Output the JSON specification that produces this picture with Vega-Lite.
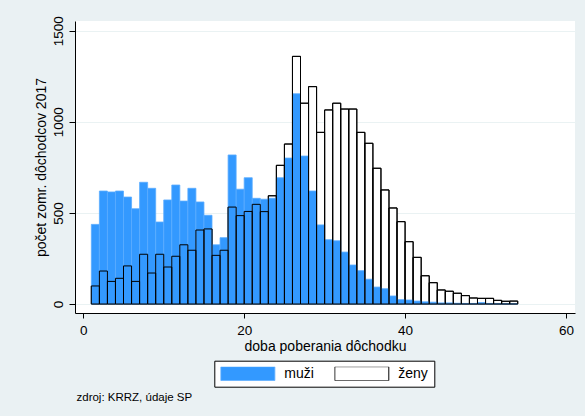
{
  "$schema": "https://vega.github.io/schema/vega-lite/v6.json",
  "autosize": "none",
  "width": 500,
  "height": 292,
  "padding": {"left": 75, "top": 21, "right": 10, "bottom": 103},
  "background": "#eaf1f3",
  "data": {"values": [
    {"od":1,"do":2,"pohlavie":"muži","pocet":437},{"od":2,"do":3,"pohlavie":"muži","pocet":620},{"od":3,"do":4,"pohlavie":"muži","pocet":615},{"od":4,"do":5,"pohlavie":"muži","pocet":620},{"od":5,"do":6,"pohlavie":"muži","pocet":587},{"od":6,"do":7,"pohlavie":"muži","pocet":523},{"od":7,"do":8,"pohlavie":"muži","pocet":668},{"od":8,"do":9,"pohlavie":"muži","pocet":635},{"od":9,"do":10,"pohlavie":"muži","pocet":450},{"od":10,"do":11,"pohlavie":"muži","pocet":571},
    {"od":11,"do":12,"pohlavie":"muži","pocet":653},{"od":12,"do":13,"pohlavie":"muži","pocet":565},{"od":13,"do":14,"pohlavie":"muži","pocet":635},{"od":14,"do":15,"pohlavie":"muži","pocet":560},{"od":15,"do":16,"pohlavie":"muži","pocet":487},{"od":16,"do":17,"pohlavie":"muži","pocet":325},{"od":17,"do":18,"pohlavie":"muži","pocet":364},{"od":18,"do":19,"pohlavie":"muži","pocet":818},{"od":19,"do":20,"pohlavie":"muži","pocet":630},{"od":20,"do":21,"pohlavie":"muži","pocet":693},
    {"od":21,"do":22,"pohlavie":"muži","pocet":580},{"od":22,"do":23,"pohlavie":"muži","pocet":575},{"od":23,"do":24,"pohlavie":"muži","pocet":580},{"od":24,"do":25,"pohlavie":"muži","pocet":693},{"od":25,"do":26,"pohlavie":"muži","pocet":801},{"od":26,"do":27,"pohlavie":"muži","pocet":1154},{"od":27,"do":28,"pohlavie":"muži","pocet":812},{"od":28,"do":29,"pohlavie":"muži","pocet":620},{"od":29,"do":30,"pohlavie":"muži","pocet":434},{"od":30,"do":31,"pohlavie":"muži","pocet":353},
    {"od":31,"do":32,"pohlavie":"muži","pocet":347},{"od":32,"do":33,"pohlavie":"muži","pocet":285},{"od":33,"do":34,"pohlavie":"muži","pocet":214},{"od":34,"do":35,"pohlavie":"muži","pocet":183},{"od":35,"do":36,"pohlavie":"muži","pocet":136},{"od":36,"do":37,"pohlavie":"muži","pocet":93},{"od":37,"do":38,"pohlavie":"muži","pocet":84},{"od":38,"do":39,"pohlavie":"muži","pocet":44},{"od":39,"do":40,"pohlavie":"muži","pocet":24},{"od":40,"do":41,"pohlavie":"muži","pocet":22},
    {"od":41,"do":42,"pohlavie":"muži","pocet":16},{"od":42,"do":43,"pohlavie":"muži","pocet":12},{"od":43,"do":44,"pohlavie":"muži","pocet":10},{"od":44,"do":45,"pohlavie":"muži","pocet":6},{"od":45,"do":46,"pohlavie":"muži","pocet":6},{"od":46,"do":47,"pohlavie":"muži","pocet":4},{"od":47,"do":48,"pohlavie":"muži","pocet":3},{"od":48,"do":49,"pohlavie":"muži","pocet":3},{"od":49,"do":50,"pohlavie":"muži","pocet":8},{"od":50,"do":51,"pohlavie":"muži","pocet":3},
    {"od":51,"do":52,"pohlavie":"muži","pocet":2},{"od":52,"do":53,"pohlavie":"muži","pocet":1},{"od":53,"do":54,"pohlavie":"muži","pocet":1},
    {"od":1,"do":2,"pohlavie":"ženy","pocet":99},{"od":2,"do":3,"pohlavie":"ženy","pocet":181},{"od":3,"do":4,"pohlavie":"ženy","pocet":124},{"od":4,"do":5,"pohlavie":"ženy","pocet":141},{"od":5,"do":6,"pohlavie":"ženy","pocet":209},{"od":6,"do":7,"pohlavie":"ženy","pocet":124},{"od":7,"do":8,"pohlavie":"ženy","pocet":273},{"od":8,"do":9,"pohlavie":"ženy","pocet":170},{"od":9,"do":10,"pohlavie":"ženy","pocet":273},{"od":10,"do":11,"pohlavie":"ženy","pocet":203},
    {"od":11,"do":12,"pohlavie":"ženy","pocet":262},{"od":12,"do":13,"pohlavie":"ženy","pocet":325},{"od":13,"do":14,"pohlavie":"ženy","pocet":295},{"od":14,"do":15,"pohlavie":"ženy","pocet":406},{"od":15,"do":16,"pohlavie":"ženy","pocet":412},{"od":16,"do":17,"pohlavie":"ženy","pocet":267},{"od":17,"do":18,"pohlavie":"ženy","pocet":295},{"od":18,"do":19,"pohlavie":"ženy","pocet":532},{"od":19,"do":20,"pohlavie":"ženy","pocet":485},{"od":20,"do":21,"pohlavie":"ženy","pocet":508},
    {"od":21,"do":22,"pohlavie":"ženy","pocet":547},{"od":22,"do":23,"pohlavie":"ženy","pocet":507},{"od":23,"do":24,"pohlavie":"ženy","pocet":594},{"od":24,"do":25,"pohlavie":"ženy","pocet":761},{"od":25,"do":26,"pohlavie":"ženy","pocet":878},{"od":26,"do":27,"pohlavie":"ženy","pocet":1359},{"od":27,"do":28,"pohlavie":"ženy","pocet":1102},{"od":28,"do":29,"pohlavie":"ženy","pocet":1193},{"od":29,"do":30,"pohlavie":"ženy","pocet":942},{"od":30,"do":31,"pohlavie":"ženy","pocet":1065},
    {"od":31,"do":32,"pohlavie":"ženy","pocet":1102},{"od":32,"do":33,"pohlavie":"ženy","pocet":1070},{"od":33,"do":34,"pohlavie":"ženy","pocet":1070},{"od":34,"do":35,"pohlavie":"ženy","pocet":942},{"od":35,"do":36,"pohlavie":"ženy","pocet":882},{"od":36,"do":37,"pohlavie":"ženy","pocet":745},{"od":37,"do":38,"pohlavie":"ženy","pocet":626},{"od":38,"do":39,"pohlavie":"ženy","pocet":527},{"od":39,"do":40,"pohlavie":"ženy","pocet":452},{"od":40,"do":41,"pohlavie":"ženy","pocet":342},
    {"od":41,"do":42,"pohlavie":"ženy","pocet":256},{"od":42,"do":43,"pohlavie":"ženy","pocet":155},{"od":43,"do":44,"pohlavie":"ženy","pocet":117},{"od":44,"do":45,"pohlavie":"ženy","pocet":77},{"od":45,"do":46,"pohlavie":"ženy","pocet":70},{"od":46,"do":47,"pohlavie":"ženy","pocet":59},{"od":47,"do":48,"pohlavie":"ženy","pocet":46},{"od":48,"do":49,"pohlavie":"ženy","pocet":33},{"od":49,"do":50,"pohlavie":"ženy","pocet":31},{"od":50,"do":51,"pohlavie":"ženy","pocet":31},
    {"od":51,"do":52,"pohlavie":"ženy","pocet":20},{"od":52,"do":53,"pohlavie":"ženy","pocet":15},{"od":53,"do":54,"pohlavie":"ženy","pocet":16}
  ]},
  "title": {"text": "zdroj: KRRZ, údaje SP", "orient": "bottom", "anchor": "start", "frame": "group", "fontSize": 11.5, "fontWeight": "normal", "font": "Liberation Sans", "color": "black", "offset": 5, "dx": 1.5},
  "encoding": {
    "x": {"field": "od", "type": "quantitative",
      "scale": {"domain": [-1.03, 61.12], "nice": false, "zero": false},
      "axis": {"values": [0, 20, 40, 60], "format": "d", "title": "doba poberania dôchodku", "tickSize": 5, "labelPadding": 5, "titleX": 250, "titleY": 37, "titleAlign": "center", "titleBaseline": "alphabetic", "labelFlush": false, "grid": false}},
    "x2": {"field": "do"},
    "y": {"field": "pocet", "type": "quantitative",
      "scale": {"domain": [-49.4, 1553.2], "nice": false, "zero": false},
      "axis": {"values": [0, 500, 1000, 1500], "format": "d", "grid": true, "title": "počet zomr. dôchodcov 2017", "labelAngle": 270, "labelAlign": "center", "labelBaseline": "alphabetic", "tickSize": 6, "labelPadding": 7, "titleAngle": 270, "titleX": -29.5, "titleY": 146, "titleAlign": "center", "titleBaseline": "alphabetic", "labelFlush": false, "labelOverlap": false}},
    "y2": {"datum": 0}
  },
  "layer": [
    {
      "transform": [{"filter": {"field": "pohlavie", "equal": "ženy"}}],
      "mark": {"type": "bar", "strokeWidth": 1},
      "encoding": {
        "fill": {"field": "pohlavie", "type": "nominal", "scale": {"domain": ["muži", "ženy"], "range": ["#3399ff", "#ffffff"]},
          "legend": {"title": null, "orient": "none", "legendX": 139.3, "legendY": 339.7, "direction": "horizontal", "columns": 2, "symbolType": "M-1,-0.26H1V0.26H-1Z", "symbolSize": 2916, "symbolStrokeWidth": 1, "clipHeight": 14, "labelOffset": 9, "columnPadding": 20, "padding": 6, "strokeColor": "black", "fillColor": "white", "labelFontSize": 14, "labelFont": "Liberation Sans", "labelColor": "black"}},
        "stroke": {"field": "pohlavie", "type": "nominal", "scale": {"domain": ["muži", "ženy"], "range": ["#5aacff", "#000000"]},
          "legend": {"title": null, "orient": "none", "legendX": 139.3, "legendY": 339.7, "direction": "horizontal", "columns": 2, "symbolType": "M-1,-0.26H1V0.26H-1Z", "symbolSize": 2916, "symbolStrokeWidth": 1, "clipHeight": 14, "labelOffset": 9, "columnPadding": 20, "padding": 6, "strokeColor": "black", "fillColor": "white", "labelFontSize": 14, "labelFont": "Liberation Sans", "labelColor": "black"}}
      }
    },
    {
      "transform": [{"filter": {"field": "pohlavie", "equal": "muži"}}],
      "mark": {"type": "bar", "strokeWidth": 0.8},
      "encoding": {
        "fill": {"field": "pohlavie", "type": "nominal"},
        "stroke": {"field": "pohlavie", "type": "nominal"}
      }
    },
    {
      "transform": [{"filter": {"field": "pohlavie", "equal": "ženy"}}],
      "mark": {"type": "bar", "fillOpacity": 0, "stroke": "#000000", "strokeWidth": 1}
    }
  ],
  "config": {
    "view": {"fill": "white", "stroke": null},
    "axis": {"domainColor": "black", "tickColor": "black", "labelColor": "black", "titleColor": "black", "labelFont": "Liberation Sans", "titleFont": "Liberation Sans", "titleFontWeight": "normal", "labelFontSize": 13.5, "titleFontSize": 14, "gridColor": "#eaf2f3", "domainWidth": 1, "tickWidth": 1}
  }
}
